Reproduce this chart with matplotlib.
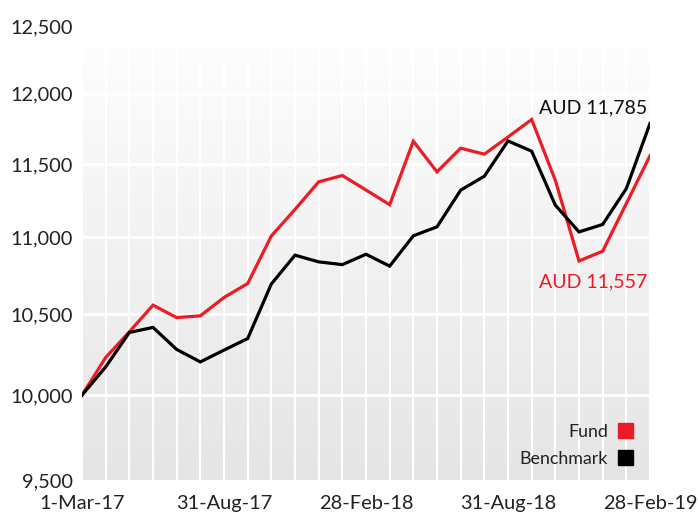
import matplotlib
matplotlib.use("Agg")
import matplotlib.pyplot as plt
import numpy as np
from matplotlib.ticker import NullLocator, FixedLocator, FixedFormatter

plt.rcParams['font.family'] = ['Lato', 'DejaVu Sans']

x_labels = ["1-Mar-17", "31-Aug-17", "28-Feb-18", "31-Aug-18", "28-Feb-19"]
x_label_idx = [0, 6, 12, 18, 24]

fund = [10000, 10230, 10390, 10559, 10480, 10491, 10608, 10698, 11010,
        11188, 11376, 11420, 11320, 11220, 11659, 11445, 11610, 11568,
        11689, 11813, 11387, 10845, 10909, 11228, 11557]
bench = [10000, 10172, 10386, 10418, 10280, 10203, 10276, 10348, 10695,
         10883, 10839, 10821, 10889, 10811, 11011, 11071, 11319, 11415,
         11661, 11589, 11217, 11037, 11087, 11330, 11785]

y_ticks = [9500, 10000, 10500, 11000, 11500, 12000, 12500]
grid_vals = [10000, 10500, 11000, 11500, 12000]

RED = '#ED1C24'
W, H = 698, 514
fig = plt.figure(figsize=(W / 100, H / 100), dpi=100)

left, right = 82 / W, 650 / W
bottom = 1 - 480 / H
top = 1 - 26 / H
bg_top = 1 - 47 / H

# gradient background
bg = fig.add_axes([left, bottom, right - left, bg_top - bottom], zorder=0)
grad = np.linspace(253, 229, 256).reshape(-1, 1) / 255.0
bg.imshow(np.dstack([grad, grad, grad]), aspect='auto', extent=[0, 1, 0, 1])
bg.axis('off')

ax = fig.add_axes([left, bottom, right - left, top - bottom], zorder=1)
ax.patch.set_alpha(0)
ax.set_yscale('log')
ax.set_ylim(9500, 12500)
ax.set_xlim(0, len(fund) - 1)

xs = np.arange(len(fund))
bg_top_val = np.exp(np.log(9500) + (np.log(12500) - np.log(9500)) * (bg_top - bottom) / (top - bottom))
ax.vlines(xs, 9500, bg_top_val, colors='white', linewidth=1.5, zorder=1)
ax.hlines(grid_vals, 0, len(fund) - 1, colors='white', linewidth=2, zorder=1)

ax.plot(xs, fund, color=RED, linewidth=2.3, zorder=3, solid_joinstyle='miter')
ax.plot(xs, bench, color='black', linewidth=2.3, zorder=3, solid_joinstyle='miter')

ax.yaxis.set_minor_locator(NullLocator())
ax.yaxis.set_major_locator(FixedLocator(y_ticks))
ax.yaxis.set_major_formatter(FixedFormatter([f"{v:,}" for v in y_ticks]))
ax.set_xticks(x_label_idx)
ax.set_xticklabels(x_labels)
ax.tick_params(axis='both', length=0, labelsize=14.4, colors='#222222')
ax.tick_params(axis='y', pad=6.5)
ax.tick_params(axis='x', pad=11)
for s in ax.spines.values():
    s.set_visible(False)

ax.annotate(f"AUD {bench[-1]:,}", xy=(len(bench) - 1, bench[-1]), xytext=(-2, 11),
            textcoords='offset points', ha='right', va='center', fontsize=14, color='#111111')
ax.annotate(f"AUD {fund[-1]:,}", xy=(len(fund) - 1, fund[-1]), xytext=(-2, -91),
            textcoords='offset points', ha='right', va='center', fontsize=14, color=RED)

# legend
fig.text(608 / W, 1 - 432 / H, "Fund", ha='right', va='center', fontsize=12.9, color='#222222')
fig.text(608 / W, 1 - 459 / H, "Benchmark", ha='right', va='center', fontsize=12.9, color='#222222')
fig.patches.append(plt.Rectangle((618 / W, 1 - 438 / H), 15 / W, 15 / H, transform=fig.transFigure,
                                 color=RED, zorder=5))
fig.patches.append(plt.Rectangle((618 / W, 1 - 465 / H), 15 / W, 15 / H, transform=fig.transFigure,
                                 color='black', zorder=5))

fig.savefig("out.png", dpi=100)
